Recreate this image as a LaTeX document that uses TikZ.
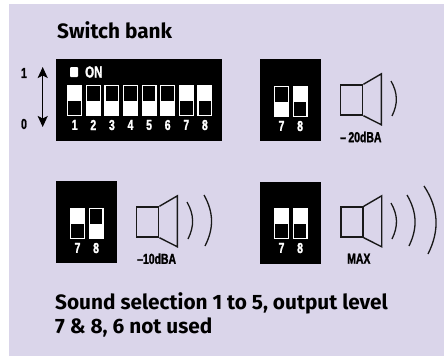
\documentclass[tikz,border=0pt]{standalone}
\usepackage{fontspec}
\setmainfont{Fira Sans}
\newfontfamily\narrowfont[FakeStretch=0.72,FakeBold=1.4]{Liberation Sans Bold}
\usetikzlibrary{arrows.meta,positioning}

\definecolor{panelcol}{RGB}{218,213,234}

\tikzset{
	heading/.style={anchor=base west,inner sep=0pt,font=\fontsize{20.8}{24}\selectfont\bfseries},
	swnum/.style={text=white,inner sep=0pt,label distance=3.5pt,font=\narrowfont\fontsize{14.5}{15}\selectfont},
	sidenum/.style={inner sep=0pt,font=\narrowfont\fontsize{14.5}{15}\selectfont},
	dblabel/.style={inner sep=0pt,font=\narrowfont\fontsize{14.5}{15}\selectfont},
	updown/.style={{Stealth[width=10pt,length=11pt,inset=2.5pt]}-{Stealth[width=10pt,length=11pt,inset=2.5pt]},line width=1.4pt},
	bank/.style={fill=black,inner sep=0pt,minimum width=61pt,minimum height=82pt},
	dipbody/.style={fill=white,inner sep=0pt,minimum width=15pt,minimum height=31pt},
	dipup/.style={dipbody,path picture={\fill[black] ([shift={(1.2pt,-1.4pt)}]path picture bounding box.north west) rectangle ([shift={(-1.2pt,-15.5pt)}]path picture bounding box.north east);}},
	dipdown/.style={dipbody,path picture={\fill[black] ([shift={(1.2pt,1.4pt)}]path picture bounding box.south west) rectangle ([shift={(-1.2pt,15.5pt)}]path picture bounding box.south east);}},
	spkbox/.style={draw=black!90,line width=1.4pt,inner sep=0pt,minimum width=22pt,minimum height=30pt},
	spkline/.style={draw=black!90,line width=1.4pt,line join=miter},
	wave/.style={draw=black!90,line width=1.3pt}
}

\begin{document}
\begin{tikzpicture}[x=1pt,y=-1pt,node distance=18.6pt,on grid]
	\useasboundingbox (0,0) rectangle (444,356);
	\fill[panelcol] (9,4) rectangle (444,356);

	\node[heading] (title) at (57,38) {Switch bank};

	% big bank
	\node[bank,minimum width=166pt] (bankA) at (139,100) {};
	\node[fill=white,rounded corners=1pt,inner sep=0pt,minimum width=8pt,minimum height=10pt] (onmark) at (74,72) {};
	\node[anchor=west,inner sep=0pt,text=white,font=\narrowfont\fontsize{16}{16}\selectfont] (ontext) at (85,72) {ON};
	\node[dipdown,label={[swnum]below:1}] (a1) at (74.7,100.5) {};
	\node[dipup,label={[swnum]below:2}] (a2) [right=of a1] {};
	\node[dipup,label={[swnum]below:3}] (a3) [right=of a2] {};
	\node[dipup,label={[swnum]below:4}] (a4) [right=of a3] {};
	\node[dipup,label={[swnum]below:5}] (a5) [right=of a4] {};
	\node[dipup,label={[swnum]below:6}] (a6) [right=of a5] {};
	\node[dipdown,label={[swnum]below:7}] (a7) [right=of a6] {};
	\node[dipdown,label={[swnum]below:8}] (a8) [right=of a7] {};

	\node[sidenum] (one) at (24,73) {1};
	\node[sidenum] (zero) at (24,124) {0};
	\coordinate (uptip) at (42.7,67);
	\coordinate (downtip) at (42.7,127);
	\draw[updown] (uptip) -- (downtip);

	% -20dBA
	\node[bank] (bankB) at (290.5,100) {};
	\node[dipup,label={[swnum]below:7}] (b7) at (281.5,101.5) {};
	\node[dipdown,label={[swnum]below:8}] (b8) [right=of b7] {};
	\node[spkbox] (spkB) at (351.7,100) {};
	\draw[spkline] (spkB.north east) -- ++(18,-10.5) -- ++(0,51) -- (spkB.south east);
	\draw[wave] (391,81) to[bend left=28] (392,116);
	\node[dblabel,anchor=west] (dbB) at (340,137) {–\,20dBA};

	% -10dBA
	\node[bank] (bankC) at (86.5,222) {};
	\node[dipdown,label={[swnum]below:7}] (c7) at (77.5,223.5) {};
	\node[dipup,label={[swnum]below:8}] (c8) [right=of c7] {};
	\node[spkbox] (spkC) at (147.7,222) {};
	\draw[spkline] (spkC.north east) -- ++(18,-10.5) -- ++(0,51) -- (spkC.south east);
	\draw[wave] (187,202) to[bend left=28] (188,239);
	\draw[wave] (204,195) to[bend left=28] (205,246);
	\node[dblabel,anchor=west] (dbC) at (137,258.7) {–10dBA};

	% MAX
	\node[bank] (bankD) at (290.5,223) {};
	\node[dipdown,label={[swnum]below:7}] (d7) at (281.5,223.5) {};
	\node[dipdown,label={[swnum]below:8}] (d8) [right=of d7] {};
	\node[spkbox] (spkD) at (352,222) {};
	\draw[spkline] (spkD.north east) -- ++(18,-10.5) -- ++(0,51) -- (spkD.south east);
	\draw[wave] (391,203) to[bend left=28] (392,239);
	\draw[wave] (407,195) to[bend left=28] (409,246);
	\draw[wave] (424,186) to[bend left=30] (428,254);
	\node[dblabel,anchor=west] (dbD) at (347,258.7) {MAX};

	\node[heading] (noteA) at (55,309.3) {Sound selection 1 to 5, output level};
	\node[heading] (noteB) at (55,333.3) {7 \& 8, 6 not used};
\end{tikzpicture}
\end{document}
